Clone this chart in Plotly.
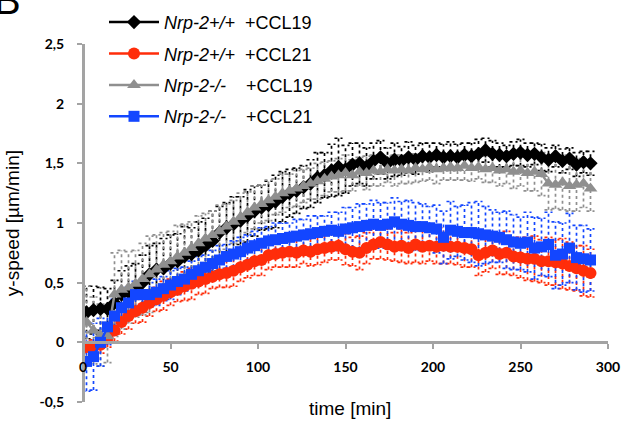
import plotly.graph_objects as go

time_min = [2, 6, 10, 14, 18, 22, 26, 30, 34, 38,
            42, 46, 50, 54, 58, 62, 66, 70, 74, 78,
            82, 86, 90, 94, 98, 102, 106, 110, 114, 118,
            122, 126, 130, 134, 138, 142, 146, 150, 154, 158,
            162, 166, 170, 174, 178, 182, 186, 190, 194, 198,
            202, 206, 210, 214, 218, 222, 226, 230, 234, 238,
            242, 246, 250, 254, 258, 262, 266, 270, 274, 278,
            282, 286, 290]

wt_ccl19 = [0.25, 0.27, 0.28, 0.28, 0.33, 0.40, 0.42, 0.45, 0.50, 0.57,
            0.61, 0.62, 0.66, 0.68, 0.72, 0.74, 0.77, 0.81, 0.85, 0.92,
            0.96, 0.99, 1.02, 1.06, 1.10, 1.13, 1.15, 1.18, 1.22, 1.25,
            1.27, 1.30, 1.33, 1.38, 1.40, 1.44, 1.47, 1.45, 1.49, 1.50,
            1.47, 1.52, 1.55, 1.50, 1.53, 1.52, 1.55, 1.53, 1.56, 1.55,
            1.57, 1.55, 1.56, 1.55, 1.57, 1.56, 1.58, 1.61, 1.58, 1.57,
            1.56, 1.58, 1.59, 1.57, 1.58, 1.55, 1.53, 1.56, 1.52, 1.54,
            1.49, 1.51, 1.50]
wt_ccl19_err = [0.22, 0.20, 0.18, 0.17, 0.19, 0.20, 0.22, 0.21, 0.23, 0.24,
                0.22, 0.25, 0.24, 0.23, 0.25, 0.22, 0.24, 0.23, 0.25, 0.22,
                0.21, 0.23, 0.20, 0.22, 0.21, 0.19, 0.20, 0.22, 0.21, 0.20,
                0.19, 0.18, 0.20, 0.21, 0.19, 0.22, 0.24, 0.20, 0.18, 0.17,
                0.16, 0.15, 0.14, 0.13, 0.14, 0.12, 0.13, 0.12, 0.11, 0.12,
                0.10, 0.11, 0.12, 0.11, 0.10, 0.11, 0.12, 0.10, 0.11, 0.10,
                0.09, 0.10, 0.11, 0.10, 0.09, 0.11, 0.10, 0.09, 0.10, 0.09,
                0.10, 0.09, 0.10]

wt_ccl21 = [-0.04, -0.04, -0.02, 0.04, 0.10, 0.17, 0.22, 0.26, 0.29, 0.33,
            0.36, 0.39, 0.42, 0.44, 0.47, 0.49, 0.51, 0.53, 0.55, 0.57,
            0.58, 0.60, 0.63, 0.65, 0.68, 0.69, 0.73, 0.74, 0.75, 0.76,
            0.75, 0.77, 0.76, 0.78, 0.79, 0.80, 0.81, 0.78, 0.76, 0.75,
            0.79, 0.82, 0.84, 0.82, 0.80, 0.81, 0.79, 0.82, 0.80, 0.81,
            0.80, 0.81, 0.80, 0.80, 0.79, 0.78, 0.73, 0.75, 0.77, 0.74,
            0.75, 0.72, 0.71, 0.70, 0.70, 0.68, 0.68, 0.67, 0.66, 0.64,
            0.62, 0.60, 0.58]
wt_ccl21_err = [0.05, 0.06, 0.07, 0.08, 0.09, 0.10, 0.11, 0.10, 0.12, 0.11,
                0.10, 0.12, 0.11, 0.10, 0.12, 0.13, 0.11, 0.12, 0.10, 0.11,
                0.12, 0.13, 0.12, 0.11, 0.12, 0.13, 0.12, 0.11, 0.12, 0.13,
                0.12, 0.11, 0.12, 0.13, 0.12, 0.11, 0.12, 0.13, 0.12, 0.14,
                0.13, 0.12, 0.14, 0.13, 0.12, 0.14, 0.13, 0.15, 0.14, 0.13,
                0.14, 0.15, 0.14, 0.15, 0.16, 0.15, 0.17, 0.16, 0.15, 0.17,
                0.18, 0.16, 0.17, 0.18, 0.19, 0.18, 0.20, 0.19, 0.21, 0.20,
                0.19, 0.21, 0.20]

ko_ccl19 = [0.17, 0.10, 0.06, 0.05, 0.40, 0.44, 0.46, 0.49, 0.53, 0.57,
            0.61, 0.65, 0.68, 0.72, 0.75, 0.79, 0.83, 0.87, 0.90, 0.93,
            0.97, 1.01, 1.05, 1.09, 1.13, 1.16, 1.19, 1.22, 1.25, 1.27,
            1.29, 1.31, 1.33, 1.35, 1.37, 1.39, 1.40, 1.42, 1.40, 1.43,
            1.42, 1.44, 1.43, 1.45, 1.44, 1.45, 1.44, 1.46, 1.45, 1.47,
            1.45, 1.46, 1.47, 1.46, 1.48, 1.46, 1.47, 1.45, 1.46, 1.44,
            1.45, 1.43, 1.44, 1.42, 1.43, 1.41, 1.33, 1.32, 1.34, 1.31,
            1.32, 1.33, 1.29]
ko_ccl19_err = [0.30, 0.28, 0.26, 0.22, 0.35, 0.33, 0.30, 0.28, 0.30, 0.32,
                0.29, 0.27, 0.25, 0.26, 0.24, 0.22, 0.23, 0.21, 0.20, 0.22,
                0.19, 0.18, 0.20, 0.17, 0.18, 0.16, 0.17, 0.15, 0.16, 0.14,
                0.15, 0.14, 0.13, 0.15, 0.14, 0.13, 0.14, 0.15, 0.13, 0.12,
                0.14, 0.13, 0.12, 0.11, 0.13, 0.12, 0.11, 0.12, 0.10, 0.11,
                0.12, 0.10, 0.11, 0.10, 0.12, 0.11, 0.10, 0.11, 0.12, 0.13,
                0.12, 0.14, 0.13, 0.15, 0.16, 0.18, 0.22, 0.20, 0.23, 0.21,
                0.22, 0.20, 0.19]

ko_ccl21 = [-0.16, -0.12, 0.00, 0.13, 0.22, 0.29, 0.33, 0.40, 0.40, 0.40,
            0.42, 0.45, 0.48, 0.51, 0.53, 0.57, 0.60, 0.63, 0.66, 0.69,
            0.72, 0.74, 0.76, 0.79, 0.81, 0.83, 0.85, 0.86, 0.87, 0.88,
            0.89, 0.90, 0.91, 0.92, 0.93, 0.94, 0.93, 0.95, 0.96, 0.97,
            0.98, 0.99, 0.98, 0.99, 1.01, 0.99, 0.98, 0.97, 0.97, 0.96,
            0.95, 0.88, 0.94, 0.93, 0.92, 0.92, 0.91, 0.90, 0.89, 0.88,
            0.86, 0.84, 0.83, 0.84, 0.79, 0.80, 0.82, 0.73, 0.74, 0.79,
            0.71, 0.70, 0.69]
ko_ccl21_err = [0.25, 0.28, 0.20, 0.15, 0.14, 0.12, 0.13, 0.11, 0.12, 0.10,
                0.11, 0.10, 0.12, 0.11, 0.10, 0.11, 0.12, 0.10, 0.11, 0.12,
                0.10, 0.11, 0.12, 0.11, 0.12, 0.13, 0.12, 0.14, 0.13, 0.12,
                0.14, 0.13, 0.15, 0.14, 0.13, 0.15, 0.16, 0.18, 0.17, 0.19,
                0.18, 0.20, 0.19, 0.18, 0.20, 0.19, 0.21, 0.20, 0.19, 0.18,
                0.20, 0.22, 0.24, 0.21, 0.23, 0.25, 0.27, 0.24, 0.22, 0.21,
                0.24, 0.23, 0.22, 0.25, 0.26, 0.24, 0.27, 0.28, 0.26, 0.29,
                0.27, 0.28, 0.26]

series_names = ["<i>Nrp-2+/+</i>&nbsp;&nbsp;+CCL19",
                "<i>Nrp-2+/+</i>&nbsp;&nbsp;+CCL21",
                "<i>Nrp-2-/-</i>&nbsp;&nbsp;&nbsp;&nbsp;+CCL19",
                "<i>Nrp-2-/-</i>&nbsp;&nbsp;&nbsp;&nbsp;+CCL21"]
y_tick_vals = [-0.5, 0, 0.5, 1, 1.5, 2, 2.5]
y_tick_text = ["-0,5", "0", "0,5", "1", "1,5", "2", "2,5"]
x_tick_vals = [0, 50, 100, 150, 200, 250, 300]
x_tick_text = ["0", "50", "100", "150", "200", "250", "300"]

styles = [
    dict(color="#000000", symbol="diamond", size=11),
    dict(color="#ff2d0a", symbol="circle", size=12),
    dict(color="#8f8f8f", symbol="triangle-up", size=12),
    dict(color="#1346ff", symbol="square", size=11),
]
data = [(wt_ccl19, wt_ccl19_err), (wt_ccl21, wt_ccl21_err),
        (ko_ccl19, ko_ccl19_err), (ko_ccl21, ko_ccl21_err)]


def error_paths(t, v, e, cap=2.3):
    xs, ys = [], []
    for ti, vi, ei in zip(t, v, e):
        lo, hi = vi - ei, vi + ei
        xs += [ti, ti, None, ti - cap, ti + cap, None, ti - cap, ti + cap, None]
        ys += [lo, hi, None, lo, lo, None, hi, hi, None]
    return xs, ys


fig = go.Figure()
for name, (vals, errs), st in zip(series_names, data, styles):
    ex, ey = error_paths(time_min, vals, errs)
    fig.add_trace(go.Scatter(x=ex, y=ey, mode="lines", showlegend=False,
                             hoverinfo="skip",
                             line=dict(color=st["color"], width=1.7, dash="dot")))
for i, (name, (vals, errs), st) in enumerate(zip(series_names, data, styles)):
    fig.add_trace(go.Scatter(x=time_min, y=vals, mode="lines+markers", name=name,
                             legendgroup=f"g{i}",
                             line=dict(color=st["color"], width=2.5),
                             marker=dict(color=st["color"], symbol=st["symbol"],
                                         size=st["size"], line=dict(width=0))))

axis_gray = "#a3a3a3"
tick_font = dict(family="Lato, Open Sans, sans-serif", size=14, color="#000000")
bold = lambda s: f"<b>{s}</b>"
fig.update_layout(
    width=623, height=421,
    margin=dict(l=83, r=15, t=44, b=19, autoexpand=False),
    paper_bgcolor="white", plot_bgcolor="white",
    font=dict(family="Liberation Sans, Arial, sans-serif", color="#000000"),
    showlegend=True,
    legend=dict(x=0.04, y=1.112, xanchor="left", yanchor="top",
                font=dict(family="Liberation Sans, Arial, sans-serif", size=18),
                traceorder="grouped", tracegroupgap=5, itemwidth=50,
                bgcolor="rgba(0,0,0,0)"),
    xaxis=dict(range=[0, 300], anchor="free", position=1/6,
               tickvals=x_tick_vals, ticktext=[bold(s) for s in x_tick_text],
               ticks="outside", ticklen=5, tickwidth=2,
               tickcolor=axis_gray, showline=True, linecolor=axis_gray, linewidth=3,
               showgrid=False, zeroline=False, tickfont=tick_font,
               ticklabelstandoff=6),
    yaxis=dict(range=[-0.5, 2.5], anchor="free", position=0,
               tickvals=y_tick_vals, ticktext=[bold(s) for s in y_tick_text],
               ticks="outside",
               ticklen=5, tickwidth=2, tickcolor=axis_gray, showline=True,
               linecolor=axis_gray, linewidth=3, showgrid=False, zeroline=False,
               tickfont=tick_font, ticklabelstandoff=10),
    annotations=[
        dict(text="y-speed [µm/min]", x=-0.135, y=0.5, xref="paper", yref="paper",
             textangle=-90, showarrow=False, xanchor="center", yanchor="middle",
             font=dict(size=19, family="Liberation Sans, Arial, sans-serif")),
        dict(text="time [min]", x=0.509, y=-0.017, xref="paper", yref="paper",
             showarrow=False, xanchor="center", yanchor="middle",
             font=dict(size=19, family="Liberation Sans, Arial, sans-serif")),
        dict(text="B", x=-0.174, y=1.056, xref="paper", yref="paper",
             showarrow=False, xanchor="left", yanchor="bottom",
             font=dict(size=40, family="Liberation Sans, Arial, sans-serif")),
    ],
)

fig.write_html("out.html",
               config={"displayModeBar": False},
               post_script="document.body.style.margin='0';"
                           "document.body.style.overflow='hidden';")
